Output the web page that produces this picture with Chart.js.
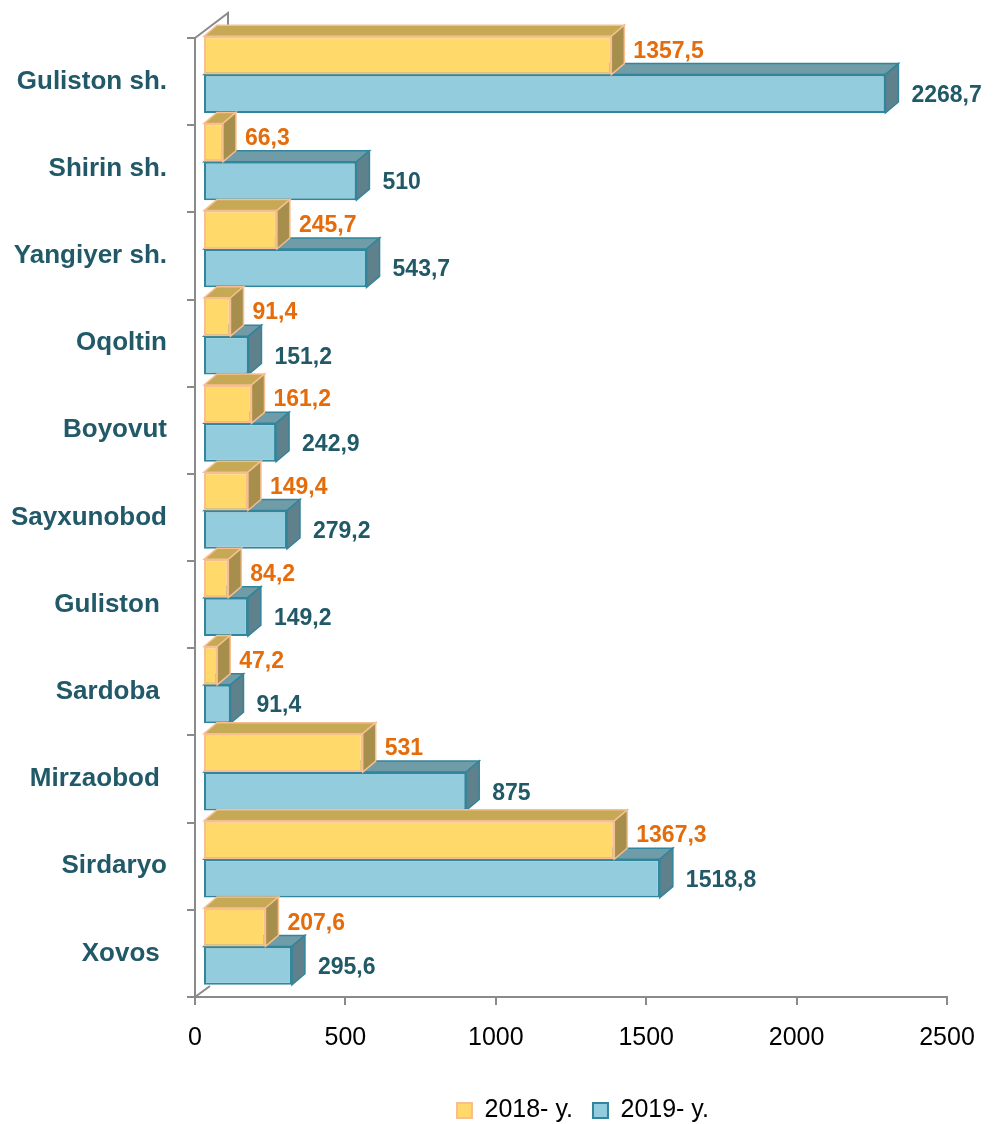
<!DOCTYPE html>
<html>
<head>
<meta charset="utf-8">
<script src="https://cdn.jsdelivr.net/npm/chart.js@4.4.1/dist/chart.umd.min.js"></script>
<style>
  html, body { margin: 0; padding: 0; background: #fff; }
  #wrap { width: 994px; height: 1124px; }
</style>
</head>
<body>
<div id="wrap"><canvas id="chart" width="994" height="1124"></canvas></div>
<script>
const categories = ["Guliston sh.", "Shirin sh.", "Yangiyer sh.", "Oqoltin", "Boyovut", "Sayxunobod", "Guliston ", "Sardoba ", "Mirzaobod ", "Sirdaryo", "Xovos "];
const values2018 = [1357.5, 66.3, 245.7, 91.4, 161.2, 149.4, 84.2, 47.2, 531, 1367.3, 207.6];
const values2019 = [2268.7, 510, 543.7, 151.2, 242.9, 279.2, 149.2, 91.4, 875, 1518.8, 295.6];
const seriesNames = ["2018- y.", "2019- y."];
const xMin = 0, xMax = 2500, xStep = 500;

const FONT = "'Liberation Sans', Arial, sans-serif";
const DX = 13, DY = -11;      // depth of the 3D faces
const SHIFT_X = 8, SHIFT_Y = -7;  // bars sit in front of the axis walls

const faceColors = [
  { top: '#C6A955', side: '#A68F4C', edge: '#F7BE90', label: '#E46C0A', gap: 9, lift: -4 },
  { top: '#6F9CA7', side: '#5E818B', edge: '#31859C', label: '#215967', gap: 13, lift: 2 }
];

function fmt(v) {
  return String(v).replace('.', ',');
}

const bars3d = {
  id: 'bars3d',
  afterLayout(chart) {
    // legend sits right of centre in the original
    const lg = chart.legend;
    const w = lg.width, h = lg.height;
    lg.left = 437; lg.right = lg.left + w;
    lg.top = 1078; lg.bottom = lg.top + h;
  },
  beforeDraw(chart) {
    const ctx = chart.ctx;
    const a = chart.chartArea;
    ctx.save();
    ctx.strokeStyle = '#8A8A8A';
    ctx.lineWidth = 2;
    ctx.beginPath();
    ctx.moveTo(a.left, a.top);
    ctx.lineTo(a.left + 33, a.top - 25);
    ctx.lineTo(a.left + 33, a.top - 5);
    ctx.moveTo(a.left, a.bottom);
    ctx.lineTo(a.left + 15, a.bottom - 11);
    ctx.stroke();
    ctx.restore();
  },
  beforeDatasetsDraw(chart) {
    chart.ctx.save();
    chart.ctx.translate(SHIFT_X, SHIFT_Y);
  },
  beforeDatasetDraw(chart, args) {
    const ctx = chart.ctx;
    const c = faceColors[args.index];
    args.meta.data.forEach(bar => {
      const p = bar.getProps(['x', 'y', 'base', 'height'], true);
      const top = p.y - p.height / 2, bottom = p.y + p.height / 2;
      ctx.lineWidth = 1.5;
      ctx.strokeStyle = c.edge;
      ctx.fillStyle = c.top;
      ctx.beginPath();
      ctx.moveTo(p.base, top);
      ctx.lineTo(p.base + DX, top + DY);
      ctx.lineTo(p.x + DX, top + DY);
      ctx.lineTo(p.x, top);
      ctx.closePath();
      ctx.fill();
      ctx.stroke();
      ctx.fillStyle = c.side;
      ctx.beginPath();
      ctx.moveTo(p.x, top);
      ctx.lineTo(p.x + DX, top + DY);
      ctx.lineTo(p.x + DX, bottom + DY);
      ctx.lineTo(p.x, bottom);
      ctx.closePath();
      ctx.fill();
      ctx.stroke();
    });
  },
  afterDatasetsDraw(chart) {
    const ctx = chart.ctx;
    ctx.font = 'bold 23px ' + FONT;
    ctx.textAlign = 'left';
    ctx.textBaseline = 'middle';
    chart.data.datasets.forEach((ds, i) => {
      const c = faceColors[i];
      ctx.fillStyle = c.label;
      chart.getDatasetMeta(i).data.forEach((bar, j) => {
        const p = bar.getProps(['x', 'y'], true);
        ctx.fillText(fmt(ds.data[j]), p.x + DX + c.gap, p.y + c.lift);
      });
    });
    ctx.restore();
  }
};

new Chart(document.getElementById('chart'), {
  type: 'bar',
  data: {
    labels: categories,
    datasets: [
      { label: seriesNames[0], data: values2018, backgroundColor: '#FFDA6B', borderColor: '#F9BE8F', borderWidth: 2, borderSkipped: false, clip: false },
      { label: seriesNames[1], data: values2019, backgroundColor: '#93CDDD', borderColor: '#31859C', borderWidth: 2, borderSkipped: false, clip: false }
    ]
  },
  options: {
    indexAxis: 'y',
    responsive: false,
    animation: false,
    devicePixelRatio: 1,
    categoryPercentage: 0.88,
    barPercentage: 1,
    layout: { padding: { top: 38, right: 47, left: 0, bottom: 4 } },
    plugins: {
      tooltip: { enabled: false },
      legend: {
        position: 'bottom',
        align: 'start',
        labels: {
          boxWidth: 15,
          boxHeight: 15,
          padding: 20,
          color: '#000',
          font: { family: FONT, size: 25 }
        }
      }
    },
    scales: {
      x: {
        min: xMin,
        max: xMax,
        ticks: { stepSize: xStep, color: '#000', padding: 18, font: { family: FONT, size: 25 }, callback: v => String(v) },
        grid: { drawOnChartArea: false, drawTicks: true, tickLength: 8, color: '#8A8A8A', lineWidth: 2 },
        border: { color: '#8A8A8A', width: 2 },
        afterFit(scale) { scale.height = 68; }
      },
      y: {
        ticks: { color: '#215968', padding: 20, font: { family: FONT, size: 26, weight: 'bold' } },
        grid: { drawOnChartArea: false, drawTicks: true, tickLength: 8, color: '#8A8A8A', lineWidth: 2 },
        border: { color: '#8A8A8A', width: 2 },
        afterFit(scale) { scale.width = 195; }
      }
    }
  },
  plugins: [bars3d]
});
</script>
</body>
</html>
